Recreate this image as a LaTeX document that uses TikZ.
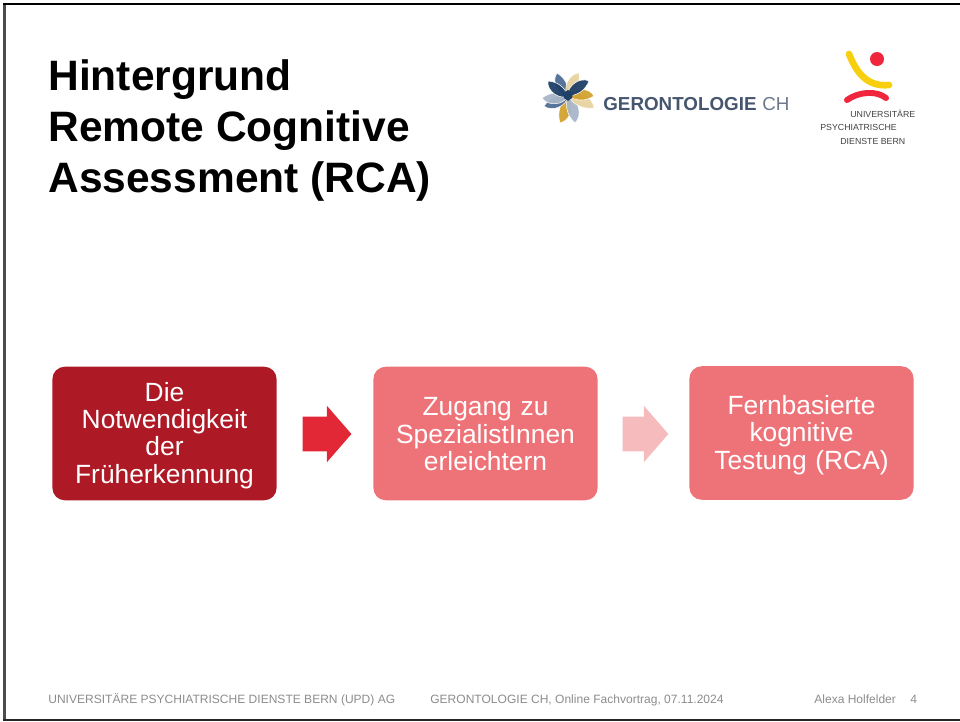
\documentclass[tikz,border=0pt]{standalone}
\usepackage{fontspec}
\setmainfont{Liberation Sans}
\usetikzlibrary{shapes.arrows}
\definecolor{darkred}{HTML}{AE1926}
\definecolor{midred}{HTML}{EE7379}
\definecolor{arrowred}{HTML}{E22837}
\definecolor{palered}{HTML}{F5BBBD}
\definecolor{footgray}{HTML}{8C8C8C}
\definecolor{logoblue}{HTML}{46566F}
\definecolor{navy}{HTML}{1F3F66}
\definecolor{steel}{HTML}{4F6D96}
\definecolor{haze}{HTML}{A9B6C8}
\definecolor{gold}{HTML}{D2A22F}
\definecolor{sand}{HTML}{E8D39F}
\definecolor{updred}{HTML}{F0273C}
\definecolor{updyellow}{HTML}{F8CF0E}
\tikzset{
  stepbox/.style={rounded corners=7pt,draw=none,minimum width=127.6pt,minimum height=76pt,
    text width=120pt,align=center,font=\fontsize{15}{15.6}\selectfont,text=white,inner sep=0pt},
  blockarrow/.style={single arrow,draw=none,text height=19.3pt,text depth=0pt,text width=0pt,
    single arrow head extend=6.2pt,single arrow tip angle=98,inner sep=0pt},
  footer/.style={anchor=base west,text=footgray,font=\fontsize{6.85}{8}\selectfont,inner sep=0pt},
  updtext/.style={anchor=base west,text=black!75,font=\fontsize{5}{6}\selectfont,inner sep=0pt},
  petal/.style={draw=white,line width=0.3pt,fill opacity=0.95}
}
\begin{document}
\begin{tikzpicture}[x=0.02cm,y=-0.02cm]
  \useasboundingbox (0,0) rectangle (960,721);
  % frame of the slide
  \draw[line width=1.6pt,color=black!70] (4.5,721) -- (4.5,4);
  \draw[line width=1.7pt,color=black] (3,4) -- (960,4);
  \draw[line width=1.1pt,color=black!85] (3,720) -- (960,720);
  % title
  \node[anchor=base west,inner sep=0pt,align=left,font=\fontsize{24.2}{28.9}\selectfont\bfseries] (title) at (48,192)
    {Hintergrund\\Remote Cognitive\\Assessment (RCA)};
  % gerontologie logo
  \begin{scope}[shift={(568,96)}]
    \foreach \tx/\ty/\col in {-11/-23/steel,11/-23/sand,-8/27/gold,7/27/haze,-24/10/steel,
        -26/2/haze,26/12/sand,26/0/gold,21/-15/navy,-20/-15/navy}{
      \fill[petal,fill=\col] (0,0) to[bend left=62] (\tx,\ty) to[bend left=32] (0,0);
    }
    \fill[navy] (-5,-3) -- (0,-6) -- (5,-3) -- (4,2) -- (0,5) -- (-4,2) -- cycle;
  \end{scope}
  \node[anchor=base west,inner sep=0pt,text=logoblue,font=\fontsize{10.7}{12}\selectfont\bfseries] (geront) at (603,110) {GERONTOLOGIE};
  \node[anchor=base west,inner sep=0pt,text=logoblue!80,font=\fontsize{10.7}{12}\selectfont] (ch) at (762,110) {CH};
  % upd logo
  \fill[updred] (877,59) circle (7);
  \draw[line width=3.8pt,color=updyellow,line cap=round] (849,54) .. controls (857,74) and (868,87) .. (889,85);
  \draw[line width=3.4pt,color=updred,line cap=round] (847,100) .. controls (858,92) and (876,90) .. (886,98);
  \node[updtext] (upda) at (850,117) {UNIVERSITÄRE};
  \node[updtext] (updb) at (820,130) {PSYCHIATRISCHE};
  \node[updtext] (updc) at (840,144) {DIENSTE BERN};
  % flow
  \node[stepbox,fill=darkred] (need) at (164.5,433.5) {\rule{0pt}{13pt}Die\\Notwendigkeit\\der\\Früherkennung};
  \node[stepbox,fill=midred] (access) at (485.5,433.5) {\rule{0pt}{11pt}Zugang zu\\SpezialistInnen\\erleichtern};
  \node[stepbox,fill=midred] (remote) at (801.5,433) {\rule{0pt}{13pt}Fernbasierte\\kognitive\\Testung (RCA)};
  \node[blockarrow,fill=arrowred,minimum height=27.8pt] (arrowa) at (319.5,434) {};
  \node[blockarrow,fill=palered,minimum height=26pt] (arrowb) at (638,434) {};
  % footer
  \node[footer] (upd) at (48,703) {UNIVERSITÄRE PSYCHIATRISCHE DIENSTE BERN (UPD) AG};
  \node[footer] (talk) at (430,703) {GERONTOLOGIE CH, Online Fachvortrag, 07.11.2024};
  \node[footer] (name) at (814,703) {Alexa Holfelder};
  \node[footer] (page) at (910,703) {4};
\end{tikzpicture}
\end{document}
